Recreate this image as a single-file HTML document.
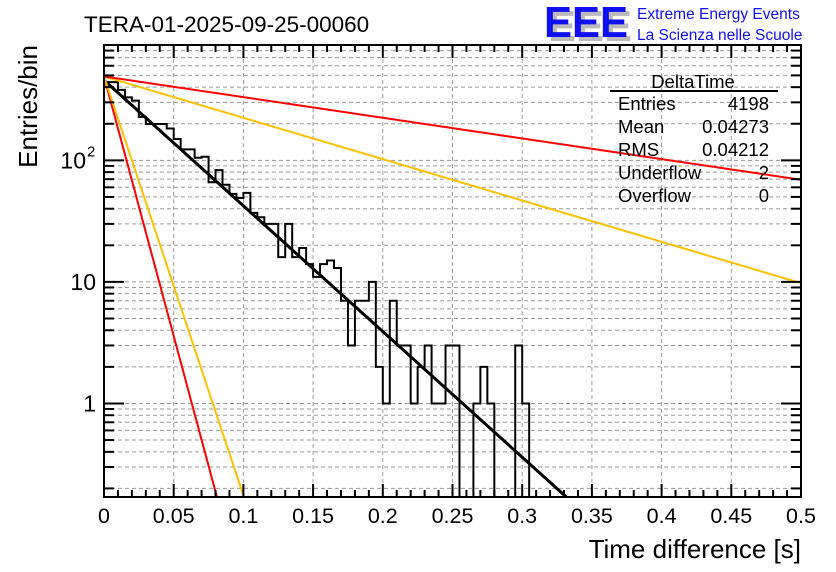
<!DOCTYPE html>
<html><head><meta charset="utf-8">
<style>
html,body{margin:0;padding:0;background:#fff;overflow:hidden;width:836px;height:572px;}
svg{display:block;font-family:"Liberation Sans",sans-serif;}
</style></head>
<body>
<svg id="chart" width="836" height="572" viewBox="0 0 836 572" xmlns="http://www.w3.org/2000/svg">
  <text x="84" y="32" font-size="22.5">TERA-01-2025-09-25-00060</text>
  <g>
    <text x="548" y="41" font-size="44" font-weight="bold" fill="#bbb" textLength="84" lengthAdjust="spacingAndGlyphs">EEE</text>
    <text x="544" y="37" font-size="44" font-weight="bold" fill="#1010ee" textLength="84" lengthAdjust="spacingAndGlyphs">EEE</text>
    <text x="637" y="19" font-size="15.5" fill="#1010ee">Extreme Energy Events</text>
    <text x="637" y="40" font-size="15.5" fill="#1010ee">La Scienza nelle Scuole</text>
  </g>
  <g id="grid"></g>
  <g id="series"></g>
  <g id="axes"></g>
  <g font-size="18.5">
    <text x="693" y="88" text-anchor="middle">DeltaTime</text>
    <line x1="610" y1="91" x2="778" y2="91" stroke="#000" stroke-width="2"/>
    <text x="618" y="110">Entries</text><text x="769" y="110" text-anchor="end">4198</text>
    <text x="618" y="133">Mean</text><text x="769" y="133" text-anchor="end">0.04273</text>
    <text x="618" y="156">RMS</text><text x="769" y="156" text-anchor="end">0.04212</text>
    <text x="618" y="179">Underflow</text><text x="769" y="179" text-anchor="end">2</text>
    <text x="618" y="202">Overflow</text><text x="769" y="202" text-anchor="end">0</text>
  </g>
  <text x="801" y="558" font-size="26" text-anchor="end">Time difference [s]</text>
  <text transform="translate(37,45) rotate(-90)" font-size="26" text-anchor="end">Entries/bin</text>
</svg>
<script>
const binWidth = 0.005;
const counts = [440,440,380,330,310,228,199,199,199,183,150,123,123,105,107,66,83,63,53,49,54,37,34,30,
  30,16,30,16,19,14,11,14,15,13,7,3,7,7,10,2,1,7,3,3,1,2,3,1,1,3,3,0,0,1,2,1,0,0,0,3,1,0,0];
const xTicks = [0,0.05,0.1,0.15,0.2,0.25,0.3,0.35,0.4,0.45,0.5];
const xTickLabels = ["0","0.05","0.1","0.15","0.2","0.25","0.3","0.35","0.4","0.45","0.5"];
const yDecades = [1,10,100];
const yDecadeLabels = ["1","10","10"];
const yDecadeExp = ["","","2"];
const fitAmp = [457, 490, 490, 490, 490];
const fitTau = [0.042, 0.01017, 0.0126, 0.1277, 0.2555];
const fitNames = ["fit-black","fit-red-fast","fit-yellow-fast","fit-yellow-slow","fit-red-slow"];
const fitColors = ["#000","#ff0000","#ffc000","#ffc000","#ff0000"];

const L=104,R=801,T=45,B=497;
const yMin=Math.log10(0.17), yMax=Math.log10(889);
const X=v=>L+(v-0)/(0.5)*(R-L);
const Y=v=>{const lv=Math.log10(Math.max(v,1e-9));return B-(lv-yMin)/(yMax-yMin)*(B-T);};
const NS="http://www.w3.org/2000/svg";
function mk(tag,attrs,parent){const e=document.createElementNS(NS,tag);for(const k in attrs)e.setAttribute(k,attrs[k]);parent.appendChild(e);return e;}
const grid=document.getElementById('grid'),series=document.getElementById('series'),axes=document.getElementById('axes');
const clip=mk('clipPath',{id:'pc'},document.getElementById('chart'));mk('rect',{x:L,y:T,width:R-L,height:B-T},clip);

xTicks.forEach(t=>{const l=mk('line',{x1:X(t),x2:X(t),y1:T,y2:B,stroke:'#999','stroke-dasharray':'4,3','stroke-width':1},grid);

});
for(let d=-1;d<=2;d++){for(let m=1;m<=9;m++){const v=m*Math.pow(10,d);const y=Y(v);if(y<T+1||y>B-1)continue;
const l=mk('line',{x1:L,x2:R,y1:y,y2:y,stroke:'#999','stroke-dasharray':'4,3','stroke-width':1},grid);

}}

let d='';const base=B+5;
counts.forEach((c,i)=>{const x0=X(i*binWidth),x1=X((i+1)*binWidth);const y=c>0?Y(c):base;
if(i===0)d+=`M${x0},${y}`;else d+=`L${x0},${y}`;d+=`L${x1},${y}`;});
const hp=mk('path',{d:d,fill:'none',stroke:'#000','stroke-width':2,'clip-path':'url(#pc)'},series);



fitAmp.forEach((a,k)=>{let p='';for(let j=0;j<=400;j++){const x=j/400*0.5;const v=a*Math.exp(-x/fitTau[k]);p+=(j?'L':'M')+X(x).toFixed(1)+','+Y(v).toFixed(1);}
const fl=mk('path',{d:p,fill:'none',stroke:fitColors[k],'stroke-width':k===0?3:2,'clip-path':'url(#pc)'},series);

});

const fr=mk('rect',{x:L,y:T,width:R-L,height:B-T,fill:'none',stroke:'#000','stroke-width':2},axes);


for(let i=0;i<=50;i++){const x=X(i*0.01);const len=(i%5===0)?13:7;
mk('line',{x1:x,x2:x,y1:B,y2:B-len,stroke:'#000','stroke-width':2},axes);
mk('line',{x1:x,x2:x,y1:T,y2:T+len,stroke:'#000','stroke-width':2},axes);}
xTicks.forEach((t,i)=>{const tx=mk('text',{x:X(t),y:523,'font-size':21.5,'text-anchor':'middle'},axes);tx.textContent=xTickLabels[i];

});
for(let dd=-1;dd<=2;dd++){for(let m=1;m<=9;m++){const v=m*Math.pow(10,dd);const y=Y(v);if(y<T||y>B)continue;const len=m===1?20:10;
mk('line',{x1:L,x2:L+len,y1:y,y2:y,stroke:'#000','stroke-width':2},axes);
mk('line',{x1:R,x2:R-len,y1:y,y2:y,stroke:'#000','stroke-width':2},axes);}}
yDecades.forEach((v,i)=>{const hasExp=yDecadeExp[i]!=='';
const tx=mk('text',{x:hasExp?86:96,y:Y(v)+8,'font-size':23,'text-anchor':'end'},axes);tx.textContent=yDecadeLabels[i];


if(hasExp){const ex=mk('text',{x:87,y:Y(v)-4,'font-size':15},axes);ex.textContent=yDecadeExp[i];

}});
</script>
</body></html>
